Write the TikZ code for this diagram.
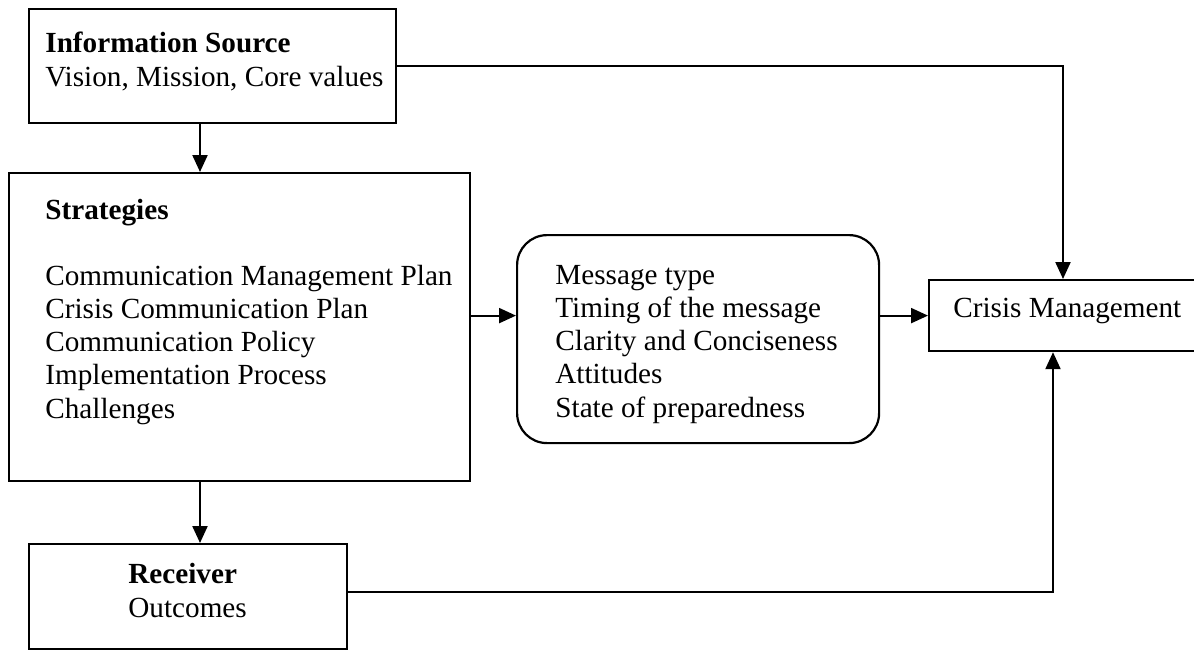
\documentclass[tikz,border=0pt]{standalone}
\usepackage{fontspec}
\setmainfont{Liberation Serif}
\usetikzlibrary{arrows.meta,calc}
\begin{document}
\begin{tikzpicture}[x=0.5pt,y=-0.5pt,
  every node/.style={font=\fontsize{14.6}{16.6}\selectfont},
  box/.style={draw,line width=1.1pt,rectangle,inner sep=0pt,anchor=north west},
  txt/.style={anchor=base west,inner sep=0pt,align=left},
  arr/.style={line width=1.1pt,-{Triangle[length=8.5pt,width=7.5pt]}},
  ln/.style={line width=1.1pt}]
\useasboundingbox (0,0) rectangle (1194,650);
\clip (0,0) rectangle (1194,650);
% boxes
\node[box,minimum width=183.5pt,minimum height=57pt] (info) at (28,8) {};
\node[box,minimum width=230.5pt,minimum height=154pt] (strat) at (8,172) {};
\node[box,minimum width=159pt,minimum height=52.5pt] (rec) at (28,543) {};
\node[box,rounded corners=15pt,minimum width=181pt,minimum height=104pt] (msg) at (516,234) {};
\node[box,minimum width=160pt,minimum height=35.5pt] (crisis) at (928,279) {};
% texts (base anchor = baseline of the last line)
\node[txt] (infotxt) at (45,86) {\textbf{Information Source}\\Vision, Mission, Core values};
\node[txt] (strattitle) at (45,219) {\textbf{Strategies}};
\node[txt] (strattxt) at (45,418) {Communication Management Plan\\Crisis Communication Plan\\Communication Policy\\Implementation Process\\Challenges};
\node[txt] (msgtxt) at (555,417) {Message type\\Timing of the message\\Clarity and Conciseness\\Attitudes\\State of preparedness};
\node[txt] (crisistxt) at (953,317) {Crisis Management};
\node[txt] (rectxt) at (128,617) {\textbf{Receiver}\\Outcomes};
% connectors
\draw[arr] ([xshift=86pt]info.south west) -- ([xshift=86pt]info.south west |- strat.north);
\draw[arr] ([xshift=96pt]strat.south west) -- ([xshift=96pt]strat.south west |- rec.north);
\draw[arr] (strat.east |- crisis.west) -- (msg.west |- crisis.west);
\draw[arr] (msg.east |- crisis.west) -- (crisis.west);
\draw[arr] (info.east) -| ([xshift=67.5pt]crisis.north west);
\draw[arr] ([yshift=2.5pt]rec.east) -| ([xshift=62.5pt]crisis.south west);
\end{tikzpicture}
\end{document}
